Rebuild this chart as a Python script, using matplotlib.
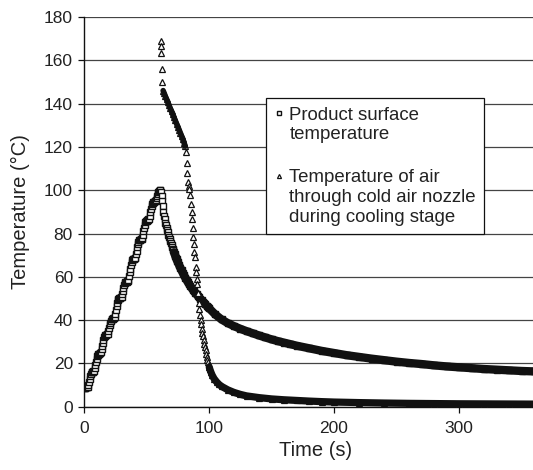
import numpy as np
import matplotlib
matplotlib.use("Agg")
from matplotlib import pyplot as plt

plt.rcParams['font.family'] = ['Liberation Sans', 'DejaVu Sans']

# product surface temperature (squares), heating part sampled every 0.5 s
sq_rise_t = np.arange(0, 61.01, 0.5)
sq_rise_T = [8.6, 8.7, 8.8, 8.9, 9.0, 9.1, 9.2,
             10.2, 11.5, 12.8, 14.0, 15.2,
             15.8, 16.0, 16.2, 16.4, 16.6,
             17.8, 19.2, 20.6, 22.0, 23.2, 24.0,
             24.3, 24.5, 24.7, 24.9, 25.1,
             26.5, 28.0, 29.5, 31.0, 32.2, 32.8,
             33.0, 33.2, 33.4, 33.6, 33.8,
             35.0, 36.3, 37.6, 38.8, 39.8, 40.3,
             40.5, 40.7, 40.9, 41.1, 41.3,
             43.0, 44.8, 46.5, 48.0, 49.2, 49.8,
             50.0, 50.2, 50.4, 50.6, 50.8,
             52.2, 53.6, 55.0, 56.2, 57.0, 57.4,
             57.6, 57.8, 58.0, 58.2, 58.4,
             60.2, 62.0, 63.8, 65.5, 66.8, 67.6,
             68.0, 68.2, 68.4, 68.6, 68.8,
             70.4, 72.0, 73.6, 75.0, 76.2, 76.8,
             77.0, 77.2, 77.4, 77.6, 77.8,
             79.4, 81.0, 82.6, 84.0, 85.2, 85.8,
             86.0, 86.2, 86.4, 86.6, 86.8,
             88.3, 89.8, 91.3, 92.6, 93.6, 94.2,
             94.5, 94.7, 94.9, 95.1, 95.3,
             96.3, 97.3, 98.2, 99.0, 99.6, 100.0, 100.2]

# product surface, cooling part
sq_fall_t = [61.5, 62, 62.5, 63, 63.5, 64, 64.5, 65, 65.5, 66, 66.5, 67, 67.5, 68,
             68.5, 69, 69.5, 70, 70.5, 71, 71.5, 72, 72.5, 73, 73.5, 74, 74.5, 75,
             76, 77, 78, 79, 80, 81, 82, 83, 84, 85, 86, 87, 88, 89, 90,
             91, 92, 93, 94, 95, 96, 97, 98, 99, 100,
             105, 110, 115, 120, 125, 130, 135, 140, 145, 150, 155, 160, 165, 170,
             180, 190, 200, 210, 220, 230, 240, 250, 260, 270, 280, 290, 300,
             310, 320, 330, 340, 350, 360, 370]
sq_fall_T = [99.0, 97.2, 95.0, 92.5, 90.0, 88.0, 86.5, 85.0, 83.8, 82.6, 81.5, 80.5, 79.5, 78.5,
             77.6, 76.7, 75.8, 74.8, 73.9, 73.0, 72.2, 71.3, 70.5, 69.7, 68.9, 68.2, 67.5, 66.8,
             65.5, 64.2, 63.0, 61.8, 60.7, 59.6, 58.6, 57.6, 56.7, 55.8, 54.9, 54.1, 53.3, 52.6, 51.9,
             51.2, 50.5, 49.8, 49.1, 48.5, 47.9, 47.3, 46.7, 46.1, 45.5,
             42.6, 40.3, 38.6, 37.2, 36.0, 34.9, 33.9, 32.9, 32.0, 31.1, 30.3, 29.6, 28.9, 28.2,
             27.0, 25.8, 24.8, 23.8, 23.0, 22.2, 21.5, 20.8, 20.2, 19.7, 19.1, 18.6, 18.2,
             17.8, 17.4, 17.1, 16.8, 16.5, 16.3, 16.0]

# air through cold air nozzle (triangles)
air_t = [61.3, 61.5, 61.8, 62.3, 62.7, 63.3, 64, 65, 66, 67, 68, 69, 70, 71, 72, 73, 74,
         75, 76, 77, 78, 79, 80, 81,
         81.6, 82.2, 82.7, 83.3, 83.7, 84.1, 84.6, 85.3, 86, 86.5, 87, 87.4, 87.8, 88.3,
         88.8, 89.3, 89.7, 90.2, 90.7, 91.2, 91.7, 92.2, 92.7, 93.2, 93.7, 94.2, 94.7,
         95.2, 95.7, 96.2, 96.7, 97.2, 97.7, 98.2, 98.7, 99.2, 99.7, 100.2, 100.7,
         101.5, 102.5, 104, 106, 108, 110, 115, 120, 125, 130, 140, 150, 160, 170, 180,
         190, 200, 220, 240, 260, 280, 300, 320, 340, 360, 370]
air_T = [169.0, 166.5, 163.5, 156.0, 150.0, 146.0, 145.0, 143.5, 142.0, 140.6, 139.2, 137.8,
         136.4, 135.0, 133.6, 132.2, 130.8, 129.4, 128.0, 126.6, 125.1, 123.6, 122.0, 120.3,
         117.7, 112.5, 108.0, 104.0, 102.0, 100.5, 98.0, 93.5, 90.0, 86.5, 82.5, 78.5, 75.0,
         71.5, 69.0, 64.5, 62.0, 59.0, 56.5, 52.5, 48.0, 45.0, 42.5, 40.0, 38.0, 36.0, 34.0,
         32.5, 30.8, 29.0, 27.5, 26.0, 24.5, 23.0, 21.8, 20.5, 19.4, 18.3, 17.3,
         16.0, 14.6, 13.0, 11.5, 10.3, 9.4, 7.8, 6.6, 5.7, 5.0, 4.2, 3.6, 3.2, 2.9, 2.6,
         2.35, 2.15, 1.9, 1.7, 1.55, 1.45, 1.35, 1.3, 1.25, 1.2, 1.2]

labels = ["Product surface\ntemperature",
          "Temperature of air\nthrough cold air nozzle\nduring cooling stage"]

sq_t = np.concatenate([sq_rise_t, sq_fall_t])
sq_T = np.concatenate([sq_rise_T, sq_fall_T])
air_t = np.array(air_t)
air_T = np.array(air_T)

fig = plt.figure(figsize=(5.33, 4.70), dpi=100)
ax = fig.add_axes([84/533, 63.3/470, 462.5/533, 389.7/470])

h1, = ax.plot(sq_t, sq_T, ls='none', marker='s', ms=4.6, mfc='white', mec='#111111',
              mew=1.0, zorder=3)
h2, = ax.plot(air_t, air_T, ls='none', marker='^', ms=4.5, mfc='white', mec='#111111',
              mew=0.9, zorder=4)

# where the original points sit so close they merge into a solid band
m = sq_t >= 72
ax.plot(sq_t[m], sq_T[m], color='#111111', lw=6.0, solid_capstyle='round', zorder=3.5)
m = (air_t >= 63.3) & (air_t <= 81)
ax.plot(air_t[m], air_T[m], color='#111111', lw=4.0, solid_capstyle='round', zorder=4.5)
m = air_t >= 100.2
ax.plot(air_t[m], air_T[m], color='#111111', lw=5.2, solid_capstyle='round', zorder=4.5)

ax.set_xlim(0, 370)
ax.set_ylim(0, 180)
ax.set_xticks([0, 100, 200, 300])
ax.set_yticks(np.arange(0, 181, 20))
ax.yaxis.grid(True, color='#444444', lw=0.9)
ax.set_axisbelow(True)
for s in ['top', 'right']:
    ax.spines[s].set_visible(False)
for s in ['left', 'bottom']:
    ax.spines[s].set_linewidth(1.0)
    ax.spines[s].set_color('#111111')
ax.tick_params(axis='both', direction='out', length=4.5, width=0.9, colors='#111111',
               labelsize=12.5, labelcolor='#222222')
ax.tick_params(axis='x', pad=5.5)
ax.tick_params(axis='y', pad=3.5)

ax.set_xlabel("Time (s)", fontsize=14.5, color='#222222', labelpad=4)
ax.set_ylabel("Temperature (°C)", fontsize=14.5, color='#222222', labelpad=10)

leg = ax.legend([h1, h2], labels, loc='upper left', bbox_to_anchor=(266/533, 1 - 98.3/470),
                bbox_transform=fig.transFigure, borderaxespad=0, fancybox=False,
                edgecolor='#111111', framealpha=1, prop={'size': 13.4}, handlelength=0.5,
                handletextpad=0.3, borderpad=0.45, labelspacing=1.4, markerscale=0.65)
leg.get_frame().set_linewidth(0.9)
for t in leg.get_texts():
    t.set_color('#222222')
for col in leg._legend_handle_box.get_children():
    for item in col.get_children():
        item.align = 'top'

fig.savefig("out.png", dpi=100)
